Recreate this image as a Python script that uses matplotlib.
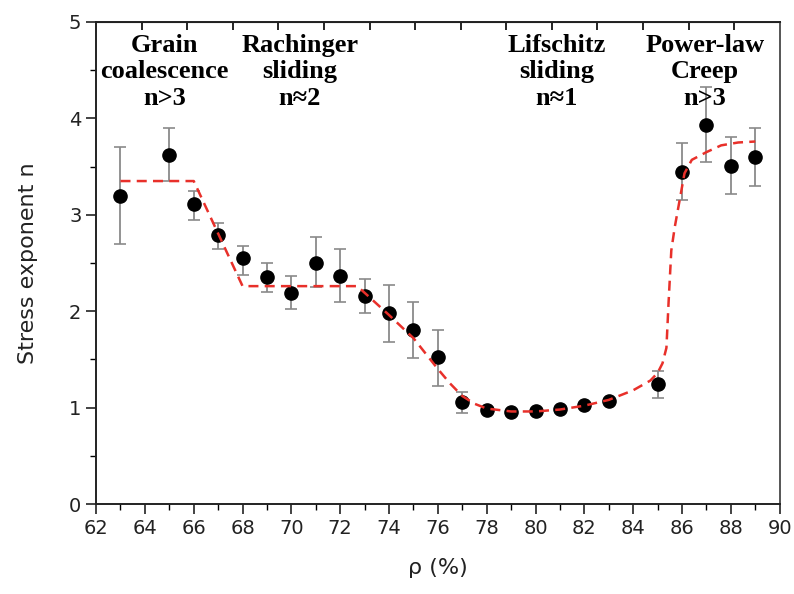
import numpy as np
import matplotlib
matplotlib.use("Agg")
import matplotlib.pyplot as plt
from matplotlib.ticker import MultipleLocator

# Data points
rho = [63, 65, 66, 67, 68, 69, 70, 71, 72, 73, 74, 75, 76, 77, 78, 79, 80, 81, 82, 83, 85, 86, 87, 88, 89]
n_val = [3.20, 3.62, 3.11, 2.79, 2.55, 2.35, 2.19, 2.50, 2.36, 2.16, 1.98, 1.81, 1.52, 1.06, 0.98, 0.95, 0.96, 0.99, 1.03, 1.07, 1.24, 3.44, 3.93, 3.51, 3.60]
err_up = [3.70, 3.90, 3.25, 2.92, 2.68, 2.50, 2.36, 2.77, 2.64, 2.33, 2.27, 2.10, 1.81, 1.16, 1.00, 0.97, 0.98, 1.01, 1.05, 1.09, 1.38, 3.74, 4.33, 3.81, 3.90]
err_lo = [2.70, 3.35, 2.95, 2.65, 2.38, 2.20, 2.02, 2.25, 2.10, 1.98, 1.68, 1.51, 1.22, 0.94, 0.96, 0.93, 0.94, 0.97, 1.01, 1.05, 1.10, 3.15, 3.55, 3.22, 3.30]

# Fit curve
fit_x = [63, 66, 68, 72.7, 74, 75, 76, 76.5, 77, 77.5, 78, 79, 80, 81, 82, 83, 84, 84.7, 85.0, 85.2, 85.36, 85.45, 85.56, 85.7, 85.9, 86.1, 86.4, 87, 87.6, 88.3, 89]
fit_y = [3.35, 3.35, 2.26, 2.26, 1.96, 1.72, 1.40, 1.25, 1.12, 1.04, 0.99, 0.96, 0.96, 0.98, 1.02, 1.08, 1.18, 1.28, 1.36, 1.46, 1.62, 2.10, 2.63, 2.87, 3.15, 3.43, 3.57, 3.65, 3.72, 3.75, 3.76]

labels = ["Grain\ncoalescence\nn>3", "Rachinger\nsliding\nn\u22482", "Lifschitz\nsliding\nn\u22481", "Power-law\nCreep\nn>3"]
label_x = [64.8, 70.35, 80.87, 86.93]

fig = plt.figure(figsize=(7.94, 5.94), dpi=100)
ax = fig.add_axes([0.121, 0.1515, 0.861, 0.8115])

yerr = [np.array(n_val) - np.array(err_lo), np.array(err_up) - np.array(n_val)]
ax.errorbar(rho, n_val, yerr=yerr, fmt='o', color='black', markersize=9.5,
            ecolor='#8a8a8a', elinewidth=1.3, capsize=4, capthick=1.2, zorder=3)
ax.plot(fit_x, fit_y, color='#e8302a', linestyle=(0, (4, 2.5)), linewidth=1.8, zorder=4)

for t, x in zip(labels, label_x):
    ax.text(x, 4.88, t, ha='center', va='top', fontsize=19, fontweight='bold',
            family='Liberation Serif', linespacing=1.2, zorder=5)

ax.set_xlim(62, 90)
ax.set_ylim(0, 5)
ax.xaxis.set_major_locator(MultipleLocator(2))
ax.xaxis.set_minor_locator(MultipleLocator(1))
ax.yaxis.set_major_locator(MultipleLocator(1))
ax.yaxis.set_minor_locator(MultipleLocator(0.5))
ax.tick_params(which='major', direction='out', length=7, width=1.2, labelsize=14, colors='#222222')
ax.tick_params(which='minor', direction='out', length=4, width=1.0)
ax.tick_params(axis='x', pad=4)

sec = ax.secondary_xaxis('top')
sec.set_xticks(np.linspace(62, 90, 16)[1:-1])
sec.tick_params(direction='in', length=6, width=1.2, labeltop=False)
sec.set_xticklabels([])

for s in ax.spines.values():
    s.set_linewidth(1.4)
    s.set_color('#222222')
ax.spines['right'].set_color('#555555')

ax.set_xlabel("\u03c1 (%)", fontsize=16, labelpad=14, color='#222222')
ax.set_ylabel("Stress exponent n", fontsize=16, labelpad=22, color='#222222')

fig.savefig("out.png", dpi=100)
